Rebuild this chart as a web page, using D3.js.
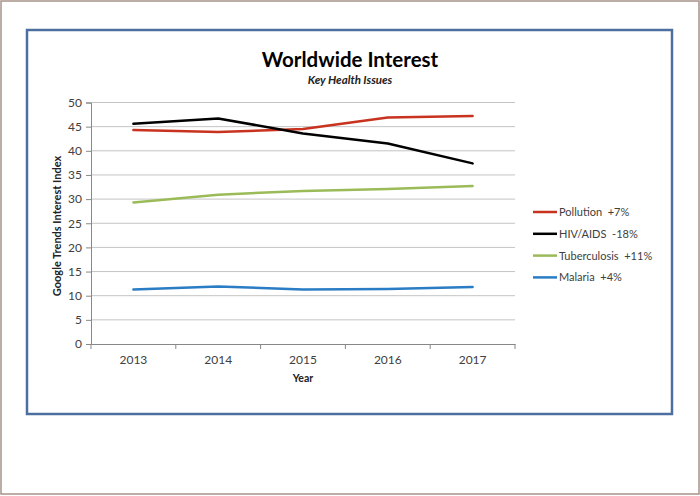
<!DOCTYPE html>
<html>
<head>
<meta charset="utf-8">
<script src="https://cdn.jsdelivr.net/npm/d3@7"></script>
<style>
  body { margin: 0; background: #fff; }
  svg text { font-family: Lato, "Open Sans", sans-serif; }
</style>
</head>
<body>
<div id="wrapper"></div>
<script>
// data
const years = ["2013", "2014", "2015", "2016", "2017"];
const seriesNames = ["Pollution  +7%", "HIV/AIDS  -18%", "Tuberculosis  +11%", "Malaria  +4%"];
const pollution = [44.3, 43.9, 44.5, 46.9, 47.2];
const hivAids = [45.6, 46.7, 43.6, 41.5, 37.4];
const tuberculosis = [29.3, 30.9, 31.7, 32.1, 32.7];
const malaria = [11.3, 11.9, 11.3, 11.4, 11.8];
const yTicks = [0, 5, 10, 15, 20, 25, 30, 35, 40, 45, 50];
const colors = ["#c8321e", "#000000", "#9bbb59", "#2a7cc4"];

const series = [pollution, hivAids, tuberculosis, malaria];

const dimensions = {
  width: 700,
  height: 496,
  margin: { top: 102.5, right: 185, bottom: 152, left: 91 }
};
dimensions.boundedWidth = dimensions.width - dimensions.margin.left - dimensions.margin.right;
dimensions.boundedHeight = dimensions.height - dimensions.margin.top - dimensions.margin.bottom;

const wrapper = d3.select("#wrapper")
  .append("svg")
  .attr("width", dimensions.width)
  .attr("height", dimensions.height);

// outer brown frame
wrapper.append("rect")
  .attr("x", 1).attr("y", 1)
  .attr("width", 698).attr("height", 493)
  .attr("fill", "#fff")
  .attr("stroke", "#a8928a")
  .attr("stroke-width", 1.5);

// blue chart border
wrapper.append("rect")
  .attr("x", 27).attr("y", 30)
  .attr("width", 645).attr("height", 384)
  .attr("fill", "#fff")
  .attr("stroke", "#4d6f9f")
  .attr("stroke-width", 2.5);

wrapper.append("text")
  .attr("x", 350).attr("y", 67)
  .attr("text-anchor", "middle")
  .attr("font-size", 20.5)
  .attr("font-weight", "bold")
  .attr("fill", "#000")
  .text("Worldwide Interest");

wrapper.append("text")
  .attr("x", 350).attr("y", 84)
  .attr("text-anchor", "middle")
  .attr("font-size", 11.5)
  .attr("font-weight", "bold")
  .attr("font-style", "italic")
  .attr("fill", "#222")
  .text("Key Health Issues");

const bounds = wrapper.append("g")
  .attr("transform", `translate(${dimensions.margin.left},${dimensions.margin.top})`);

const xScale = d3.scaleBand()
  .domain(years)
  .range([0, dimensions.boundedWidth]);

const yScale = d3.scaleLinear()
  .domain([0, 50])
  .range([dimensions.boundedHeight, 0]);

// gridlines
bounds.append("g")
  .selectAll("line")
  .data(yTicks.filter(d => d > 0))
  .join("line")
  .attr("x1", 0)
  .attr("x2", dimensions.boundedWidth)
  .attr("y1", d => yScale(d))
  .attr("y2", d => yScale(d))
  .attr("stroke", "#c4c4c4")
  .attr("stroke-width", 1);

// axes
const yAxis = bounds.append("g")
  .call(d3.axisLeft(yScale).tickValues(yTicks).tickSize(5).tickPadding(4));
yAxis.selectAll("text").attr("font-size", 12).attr("fill", "#404040");

const xAxis = bounds.append("g")
  .attr("transform", `translate(0,${dimensions.boundedHeight})`)
  .call(d3.axisBottom(xScale).tickSize(0).tickPadding(11));
xAxis.selectAll("text").attr("font-size", 12).attr("fill", "#404040");

// category boundary ticks
xAxis.append("g")
  .selectAll("line")
  .data(d3.range(years.length + 1))
  .join("line")
  .attr("x1", i => i * xScale.step())
  .attr("x2", i => i * xScale.step())
  .attr("y1", 0)
  .attr("y2", 5)
  .attr("stroke", "#888");

bounds.selectAll(".domain").attr("stroke", "#888");
bounds.selectAll(".tick line").attr("stroke", "#888");

// lines
const lineGenerator = d3.line()
  .x((d, i) => xScale(years[i]) + xScale.bandwidth() / 2)
  .y(d => yScale(d));

bounds.append("g")
  .selectAll("path")
  .data(series)
  .join("path")
  .attr("d", d => lineGenerator(d))
  .attr("fill", "none")
  .attr("stroke", (d, i) => colors[i])
  .attr("stroke-width", 2.5)
  .attr("stroke-linejoin", "round")
  .attr("stroke-linecap", "round");

// axis titles
wrapper.append("text")
  .attr("transform", "translate(61,226) rotate(-90)")
  .attr("text-anchor", "middle")
  .attr("font-size", 11)
  .attr("font-weight", "bold")
  .attr("fill", "#222")
  .text("Google Trends Interest Index");

wrapper.append("text")
  .attr("x", dimensions.margin.left + dimensions.boundedWidth / 2)
  .attr("y", 382)
  .attr("text-anchor", "middle")
  .attr("font-size", 10.5)
  .attr("font-weight", "bold")
  .attr("fill", "#222")
  .text("Year");

// legend
const legend = wrapper.append("g")
  .attr("transform", "translate(533,212)");

const legendItems = legend.selectAll("g")
  .data(seriesNames)
  .join("g")
  .attr("transform", (d, i) => `translate(0,${i * 21.8})`);

legendItems.append("line")
  .attr("x1", 0).attr("x2", 24)
  .attr("y1", 0).attr("y2", 0)
  .attr("stroke", (d, i) => colors[i])
  .attr("stroke-width", 2.5);

legendItems.append("text")
  .attr("x", 26)
  .attr("y", 4)
  .attr("font-size", 11)
  .attr("fill", "#404040")
  .style("white-space", "pre")
  .text(d => d);
</script>
</body>
</html>
